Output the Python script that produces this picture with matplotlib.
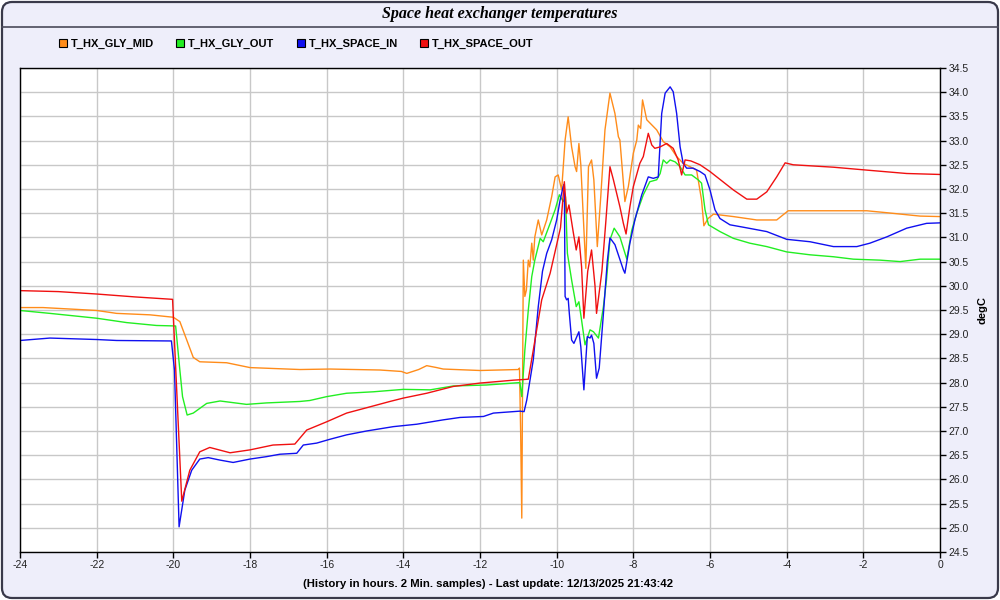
import numpy as np
import matplotlib.pyplot as plt
from matplotlib.patches import FancyBboxPatch
from matplotlib.lines import Line2D
from matplotlib.colors import LinearSegmentedColormap

# ---- data (hours before last update, degC) ----
red_h = [-24.0, -23.0, -22.0, -21.0, -20.02, -19.78, -19.57, -19.31, -19.05, -18.52, -18.0,
         -17.4, -16.83, -16.52, -16.0, -15.48, -14.96, -14.35, -14.0, -13.39, -12.7, -12.0,
         -11.13, -10.74, -10.61, -10.39, -10.17, -10.0, -9.9, -9.8, -9.74, -9.68, -9.57,
         -9.49, -9.42, -9.35, -9.29, -9.19, -9.09, -9.0, -8.96, -8.82, -8.72, -8.61, -8.52,
         -8.35, -8.26, -8.19, -8.09, -8.0, -7.83, -7.74, -7.61, -7.52, -7.44, -7.3, -7.13,
         -6.96, -6.83, -6.74, -6.65, -6.5, -6.26, -6.0, -5.39, -5.04, -4.78, -4.52, -4.26,
         -4.04, -3.83, -2.78, -1.91, -0.87, 0.0]
red_t = [29.9, 29.88, 29.83, 29.77, 29.72, 25.55, 26.19, 26.57, 26.66, 26.55, 26.61,
         26.71, 26.73, 27.02, 27.19, 27.37, 27.48, 27.61, 27.68, 27.78, 27.92, 27.99,
         28.05, 28.07, 28.67, 29.71, 30.26, 30.85, 31.2, 32.15, 31.5, 31.67, 31.12,
         30.74, 31.01, 30.39, 29.33, 30.3, 30.74, 30.0, 29.43, 30.3, 31.3, 32.46, 32.19,
         31.63, 31.29, 31.07, 31.63, 32.05, 32.53, 32.67, 33.15, 32.91, 32.84, 32.87, 32.94,
         32.84, 32.6, 32.29, 32.6, 32.58, 32.5, 32.36, 31.98, 31.79, 31.79, 31.94, 32.25,
         32.54, 32.5, 32.45, 32.39, 32.32, 32.3]

blue_h = [-24.0, -23.22, -22.0, -21.48, -20.05, -19.97, -19.85, -19.7, -19.52, -19.31, -19.09,
          -18.79, -18.44, -18.0, -17.57, -17.22, -16.78, -16.61, -16.26, -15.91, -15.48,
          -14.96, -14.26, -13.65, -12.96, -12.52, -11.91, -11.65, -10.96, -10.85, -10.78,
          -10.61, -10.48, -10.37, -10.26, -10.13, -10.0, -9.91, -9.83, -9.8, -9.78, -9.74,
          -9.7, -9.67, -9.61, -9.55, -9.42, -9.37, -9.29, -9.2, -9.13, -9.09, -9.03, -8.96,
          -8.89, -8.78, -8.68, -8.61, -8.48, -8.26, -8.22, -8.09, -7.96, -7.78, -7.61, -7.48,
          -7.35, -7.26, -7.17, -7.04, -6.96, -6.87, -6.78, -6.7, -6.61, -6.44, -6.26, -6.13,
          -6.0, -5.87, -5.74, -5.48, -5.13, -4.52, -4.0, -3.39, -2.78, -2.17, -1.83, -1.39,
          -0.87, -0.35, 0.0]
blue_t = [28.87, 28.92, 28.89, 28.87, 28.86, 28.26, 25.02, 25.78, 26.19, 26.42, 26.45,
          26.4, 26.35, 26.42, 26.47, 26.52, 26.54, 26.71, 26.75, 26.83, 26.92,
          27.0, 27.09, 27.14, 27.23, 27.28, 27.3, 27.37, 27.41, 27.4, 27.64,
          28.47, 29.57, 30.3, 30.67, 30.95, 31.36, 31.77, 32.05, 32.1, 29.78, 29.71,
          29.74, 29.43, 28.88, 28.81, 29.05, 28.74, 27.85, 28.95, 28.92, 28.98, 28.81, 28.09,
          28.3, 29.43, 30.5, 30.99, 30.85, 30.33, 30.26, 30.88, 31.36, 31.88, 32.25, 32.22,
          32.25, 33.56, 33.98, 34.11, 34.01, 33.56, 32.87, 32.53, 32.43, 32.43, 32.36, 32.29,
          31.98, 31.57, 31.39, 31.26, 31.21, 31.12, 30.96, 30.91, 30.81, 30.81, 30.88, 31.01,
          31.19, 31.29, 31.3]

green_h = [-24.0, -23.22, -22.0, -21.22, -20.44, -19.94, -19.83, -19.76, -19.64, -19.48, -19.13,
           -18.78, -18.09, -17.57, -16.7, -16.44, -16.0, -15.48, -14.78, -14.0, -13.3, -12.7,
           -11.83, -10.96, -10.91, -10.83, -10.74, -10.65, -10.57, -10.43, -10.35, -10.17,
           -10.04, -9.93, -9.83, -9.77, -9.72, -9.61, -9.52, -9.49, -9.42, -9.35, -9.26, -9.13,
           -9.04, -8.91, -8.78, -8.7, -8.61, -8.5, -8.35, -8.17, -8.04, -7.91, -7.74, -7.57,
           -7.39, -7.3, -7.22, -7.13, -7.04, -6.91, -6.78, -6.65, -6.48, -6.31, -6.22, -6.13,
           -6.04, -5.74, -5.39, -4.96, -4.52, -4.0, -3.39, -2.78, -2.26, -1.57, -1.04, -0.52, 0.0]
green_t = [29.49, 29.43, 29.33, 29.24, 29.18, 29.17, 28.26, 27.71, 27.33, 27.37, 27.57,
           27.62, 27.55, 27.58, 27.61, 27.63, 27.71, 27.78, 27.81, 27.86, 27.85, 27.93,
           27.95, 28.0, 27.71, 28.67, 29.5, 30.19, 30.53, 30.98, 30.91, 31.29,
           31.57, 31.88, 31.74, 31.84, 30.67, 30.12, 29.71, 29.57, 29.67, 29.29, 28.78, 29.09,
           29.05, 28.92, 29.57, 30.12, 30.95, 31.19, 31.01, 30.55, 31.15, 31.5, 31.88, 32.15,
           32.19, 32.32, 32.6, 32.53, 32.6, 32.56, 32.46, 32.29, 32.29, 32.19, 32.12, 31.57,
           31.26, 31.12, 30.98, 30.88, 30.81, 30.7, 30.64, 30.6, 30.55, 30.53, 30.5, 30.55, 30.55]

orange_h = [-24.0, -23.4, -22.0, -21.48, -20.61, -20.0, -19.83, -19.65, -19.48, -19.31, -18.61,
            -18.0, -16.7, -15.91, -14.61, -14.05, -13.91, -13.6, -13.39, -13.13, -12.96, -12.0,
            -11.0, -10.97, -10.94, -10.91, -10.87, -10.83, -10.79, -10.74, -10.7, -10.65,
            -10.61, -10.57, -10.48, -10.39, -10.26, -10.13, -10.04, -9.96, -9.87, -9.78, -9.7,
            -9.61, -9.52, -9.48, -9.42, -9.37, -9.31, -9.24, -9.17, -9.09, -9.03, -8.94, -8.85,
            -8.74, -8.61, -8.48, -8.39, -8.35, -8.22, -8.13, -8.0, -7.91, -7.87, -7.81, -7.76,
            -7.65, -7.39, -7.22, -7.04, -6.87, -6.7, -6.52, -6.35, -6.22, -6.16, -6.05, -5.91,
            -5.39, -4.78, -4.26, -3.96, -2.78, -1.91, -1.39, -0.52, 0.0]
orange_t = [29.55, 29.55, 29.49, 29.43, 29.4, 29.35, 29.26, 28.88, 28.52, 28.43, 28.41,
            28.31, 28.27, 28.28, 28.26, 28.23, 28.19, 28.27, 28.35, 28.31, 28.28, 28.25,
            28.27, 28.3, 27.0, 25.2, 30.53, 29.78, 29.91, 30.53, 30.39, 30.88,
            30.53, 31.01, 31.36, 31.05, 31.36, 31.84, 32.25, 32.29, 31.98, 33.01, 33.49,
            32.87, 32.46, 32.36, 32.94, 32.5, 31.5, 30.36, 32.46, 32.6, 32.19, 30.81, 31.84,
            33.22, 33.98, 33.56, 33.08, 33.01, 31.74, 32.05, 32.74, 33.01, 33.32, 33.25, 33.84,
            33.43, 33.22, 32.98, 32.87, 32.67, 32.53, 32.46, 32.39, 31.77, 31.24, 31.39, 31.48,
            31.43, 31.36, 31.36, 31.55, 31.55, 31.55, 31.51, 31.44, 31.43]

labels = ["T_HX_GLY_MID", "T_HX_GLY_OUT", "T_HX_SPACE_IN", "T_HX_SPACE_OUT"]
colors = ["#FF8C1A", "#22EE22", "#1010F0", "#F01010"]

plt.rcParams['font.family'] = ['Liberation Sans', 'DejaVu Sans']
plt.rcParams['axes.unicode_minus'] = False

fig = plt.figure(figsize=(10, 6), dpi=100)
fig.patch.set_facecolor("white")

# background panel with rounded frame and gradient title bar
bg = fig.add_axes([0, 0, 1, 1], zorder=-5)
bg.set_xlim(0, 10)
bg.set_ylim(0, 6)
bg.axis("off")
panel = FancyBboxPatch((0.02, 0.02), 9.96, 5.96, boxstyle="round,pad=0,rounding_size=0.1",
                       fc="#EEEEFA", ec="none")
bg.add_patch(panel)
grad = np.linspace(0, 1, 50).reshape(-1, 1)
cmap = LinearSegmentedColormap.from_list("bar", ["#F6F6FF", "#DCDCF2", "#C6C6E2"])
im = bg.imshow(grad, extent=(0.02, 9.98, 5.74, 5.98), aspect="auto", cmap=cmap, origin="upper")
im.set_clip_path(panel)
bg.plot([0.02, 9.98], [5.735, 5.735], color="#4A4A5A", lw=1.2)
bg.add_patch(FancyBboxPatch((0.02, 0.02), 9.96, 5.96, boxstyle="round,pad=0,rounding_size=0.1",
                            fc="none", ec="#3A3A4A", lw=1.6))
fig.text(0.5, 1 - 14 / 600, "Space heat exchanger temperatures", ha="center", va="center",
         family="Liberation Serif", style="italic", weight="bold", fontsize=11.5)

# main plot
ax = fig.add_axes([0.02, 0.08, 0.92, 0.8067])
ax.set_facecolor("white")
series = [(orange_h, orange_t), (green_h, green_t), (blue_h, blue_t), (red_h, red_t)]
for (h, t), c in zip(series, colors):
    ax.plot(h, t, color=c, lw=1.0)

ax.set_xlim(-24, 0)
ax.set_ylim(24.5, 34.5)
ax.set_xticks(np.arange(-24, 1, 2))
ax.set_yticks(np.arange(24.5, 34.51, 0.5))
ax.set_yticklabels([f"{v:.1f}" for v in np.arange(24.5, 34.51, 0.5)])
ax.yaxis.tick_right()
ax.yaxis.set_label_position("right")
ax.grid(True, color="#C8C8C8", lw=1)
ax.set_axisbelow(True)
ax.tick_params(axis="both", direction="out", length=4, width=1, labelsize=7.5,
               colors="black", labelcolor="#222222", pad=2)
for s in ax.spines.values():
    s.set_color("black")
    s.set_linewidth(1)

ax.set_xlabel("(History in hours. 2 Min. samples) - Last update: 12/13/2025 21:43:42",
              fontsize=8.2, weight="bold", labelpad=6)
ax.xaxis.label.set_x(0.509)
ax.set_ylabel("degC", fontsize=8, weight="bold", labelpad=6)

handles = [Line2D([], [], marker="s", linestyle="none", markersize=5.5, markerfacecolor=c,
                  markeredgecolor="black", markeredgewidth=0.8) for c in colors]
fig.legend(handles, labels, loc="center left", bbox_to_anchor=(0.055, 1 - 44 / 600), ncol=4,
           frameon=False, handlelength=0.7, handletextpad=0.35, columnspacing=2.0,
           borderaxespad=0, prop={"size": 8.0, "weight": "bold"})

fig.savefig("out.png", dpi=100)
